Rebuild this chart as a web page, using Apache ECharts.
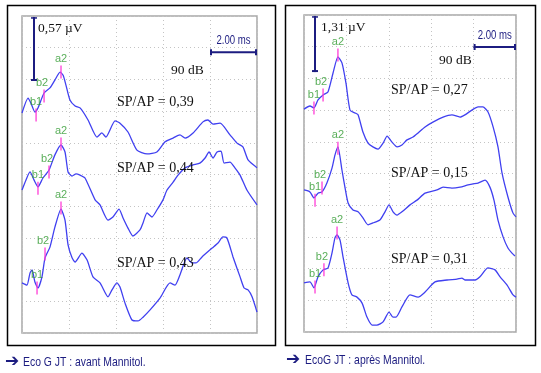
<!DOCTYPE html>
<html><head><meta charset="utf-8">
<script src="https://cdn.jsdelivr.net/npm/echarts@6/dist/echarts.min.js"></script>
<style>html,body{margin:0;padding:0;background:#fff}#c{width:541px;height:373px}</style>
</head><body><div id="c"></div>
<script>
// x in ms (0..10), y in screen divisions (0 bottom .. 10 top)
const leftTrace1 = [[0,6.94],[0.26,7.41],[0.38,7.25],[0.55,6.97],[0.68,7.10],[0.94,7.57],[1.19,7.73],[1.40,7.98],[1.62,8.23],[1.75,8.13],[1.87,7.82],[2.04,7.35],[2.26,7.16],[2.47,7.10],[2.81,6.72],[3.19,6.18],[3.40,6.31],[3.57,6.18],[3.96,6.69],[4.17,6.62],[4.51,6.34],[4.89,5.77],[5.32,5.65],[5.74,5.71],[6.09,6.03],[6.43,6.15],[6.72,6.25],[6.94,6.15],[7.28,6.31],[7.70,6.66],[7.91,6.72],[8.13,6.59],[8.43,6.62],[8.85,6.25],[9.15,5.99],[9.40,5.87],[9.62,5.46],[10.0,5.21]];
const leftTrace2 = [[0,4.51],[0.17,4.83],[0.34,5.08],[0.51,4.83],[0.68,4.61],[0.89,4.89],[1.15,5.14],[1.40,5.62],[1.66,5.93],[1.83,5.71],[1.96,5.08],[2.13,4.95],[2.30,5.02],[2.47,4.98],[2.68,4.89],[3.11,4.20],[3.32,4.04],[3.66,3.56],[3.87,3.66],[4.13,3.91],[4.30,3.63],[4.51,3.31],[4.72,3.06],[5.02,3.25],[5.15,3.47],[5.32,3.79],[5.53,3.66],[5.74,3.88],[6.00,4.20],[6.17,4.51],[6.43,4.76],[6.64,4.98],[6.94,5.21],[7.28,5.30],[7.57,5.36],[7.79,5.52],[7.96,5.71],[8.13,5.52],[8.30,5.71],[8.47,5.74],[8.60,5.36],[8.85,5.39],[9.06,5.21],[9.28,4.98],[9.57,4.51],[10.0,4.04]];
const leftTrace3 = [[0,1.58],[0.21,1.51],[0.34,1.89],[0.43,1.99],[0.55,1.61],[0.68,1.42],[0.85,1.77],[0.98,2.37],[1.19,2.71],[1.40,3.34],[1.66,3.91],[1.83,3.56],[1.96,2.78],[2.13,2.37],[2.26,2.24],[2.55,2.52],[2.77,2.30],[3.02,1.77],[3.32,1.58],[3.66,1.14],[3.83,1.36],[4.04,1.58],[4.17,1.45],[4.38,0.95],[4.68,0.41],[4.94,0.38],[5.15,0.50],[5.45,0.73],[5.87,1.10],[6.30,1.58],[6.51,1.51],[6.72,1.83],[7.02,2.37],[7.23,2.21],[7.40,2.21],[7.66,2.40],[8.09,2.68],[8.34,2.84],[8.55,3.03],[8.72,3.00],[8.98,2.40],[9.28,1.77],[9.45,1.42],[9.62,1.36],[9.79,1.14],[10.0,0.66]];
const rightTrace1 = [[0,7.03],[0.28,7.13],[0.47,7.07],[0.66,7.32],[0.90,7.48],[1.13,7.57],[1.37,8.17],[1.60,8.68],[1.79,8.49],[1.98,7.85],[2.17,7.00],[2.41,6.91],[2.55,6.85],[2.78,6.31],[3.02,5.96],[3.25,5.84],[3.49,5.77],[3.73,5.96],[3.92,6.18],[4.15,5.99],[4.39,5.84],[4.62,5.90],[4.86,6.06],[5.14,6.15],[5.38,6.28],[5.71,6.47],[6.08,6.62],[6.56,6.78],[6.98,6.85],[7.36,6.78],[7.59,6.85],[7.92,7.00],[8.21,7.10],[8.44,7.10],[8.68,6.94],[8.92,6.47],[9.15,5.84],[9.34,5.02],[9.62,4.26],[9.86,3.75],[10.0,3.63]];
const rightTrace2 = [[0,4.48],[0.28,4.42],[0.47,4.23],[0.66,4.38],[0.85,4.42],[1.08,4.70],[1.32,5.17],[1.46,5.58],[1.60,5.84],[1.79,5.11],[1.93,4.57],[2.08,4.07],[2.31,3.85],[2.55,3.79],[2.78,3.60],[3.02,3.38],[3.25,3.44],[3.58,3.53],[3.82,3.79],[4.01,4.01],[4.20,3.79],[4.39,3.69],[4.62,3.79],[5.00,4.01],[5.33,4.16],[5.71,4.38],[6.27,4.48],[6.56,4.57],[6.98,4.54],[7.36,4.57],[7.74,4.64],[7.97,4.67],[8.21,4.70],[8.54,4.79],[8.77,4.57],[8.96,4.16],[9.15,3.53],[9.39,3.00],[9.62,2.65],[9.81,2.49],[9.95,2.40]];
const rightTrace3 = [[0,1.55],[0.28,1.58],[0.47,1.39],[0.66,1.74],[0.90,1.96],[1.13,2.02],[1.32,2.49],[1.46,2.97],[1.56,3.06],[1.70,2.90],[1.84,2.37],[2.08,1.55],[2.26,1.17],[2.50,1.10],[2.74,0.91],[2.97,0.47],[3.21,0.22],[3.44,0.22],[3.73,0.32],[4.01,0.63],[4.20,0.47],[4.34,0.47],[4.62,0.79],[5.00,1.17],[5.38,1.10],[5.71,1.26],[6.18,1.58],[6.75,1.64],[7.22,1.67],[7.45,1.70],[7.59,1.64],[8.07,1.64],[8.30,1.74],[8.68,2.02],[9.01,1.96],[9.25,1.74],[9.58,1.48],[9.86,1.17],[10.0,1.10]];

// wave markers: [name, ms, div]
const leftMarks1 = [['b1',0.60,6.88],['b2',0.94,7.48],['a2',1.66,8.23]];
const leftMarks2 = [['b1',0.68,4.57],['b2',1.15,5.08],['a2',1.66,5.96]];
const leftMarks3 = [['b1',0.64,1.42],['b2',0.98,2.49],['a2',1.66,3.94]];
const rightMarks1 = [['b1',0.47,7.07],['b2',0.90,7.48],['a2',1.60,8.74]];
const rightMarks2 = [['b1',0.52,4.16],['b2',0.85,4.54],['a2',1.60,5.80]];
const rightMarks3 = [['b1',0.52,1.42],['b2',0.94,1.96],['a2',1.56,3.12]];

const leftRatios = ['SP/AP = 0,39','SP/AP = 0,44','SP/AP = 0,43'];
const rightRatios = ['SP/AP = 0,27','SP/AP = 0,15','SP/AP = 0,31'];
const uvLabels = ['0,57 µV','1,31 µV'];
const msLabel = '2.00 ms';
const levelLabel = '90 dB';
const captions = ['Eco G JT : avant Mannitol.','EcoG JT : après Mannitol.'];
// scale bars in axis units
const msBar = [[8,10,8.86],[8,10,8.99]];      // x0,x1,y
const uvBar = [[0.51,9.97,7.95],[0.52,9.97,8.2]]; // x,y0,y1

const TRACE = '#4040f0', NAVY = '#1c1c80', GREEN = '#2f9a2f', MAG = '#ff3ad6';
const SERIF = '"Liberation Serif", "Times New Roman", serif';
const SANS = '"Liberation Sans", Arial, sans-serif';

const chart = echarts.init(document.getElementById('c'), null, {renderer:'canvas'});

function ax(i, interval){
  return {type:'value', gridIndex:i, min:0, max:10, interval:interval,
    axisLine:{show:false}, axisTick:{show:false}, axisLabel:{show:false},
    splitLine:{show:true, lineStyle:{color:'#c4c4c4', type:[1,3], width:1}}};
}
function lineS(i, d){
  return {type:'line', xAxisIndex:i, yAxisIndex:i, data:d, showSymbol:false, smooth:0.2,
    lineStyle:{color:TRACE, width:1.3}, silent:true, z:3, animation:false};
}
function markS(i, m){
  return {type:'scatter', xAxisIndex:i, yAxisIndex:i, symbol:'rect', symbolSize:[1.6,13],
    itemStyle:{color:MAG}, z:4, animation:false, silent:true,
    data:m.map(p=>({name:p[0], value:[p[1],p[2]],
      label:{offset:p[0]==='b2'?[-2,0]:[0,0]}})),
    label:{show:true, position:'top', distance:1, formatter:'{b}', color:GREEN,
      fontSize:11, fontFamily:SANS}};
}

const option = {
  animation:false,
  grid:[
    {left:22, top:16, width:235, height:317, show:true, borderColor:'#a8a8a8', borderWidth:1.5, backgroundColor:'#fff'},
    {left:304, top:15, width:212, height:317, show:true, borderColor:'#a8a8a8', borderWidth:1.5, backgroundColor:'#fff'}
  ],
  xAxis:[ax(0,2), ax(1,2)],
  yAxis:[ax(0,1), ax(1,1)],
  series:[
    lineS(0,leftTrace1), lineS(0,leftTrace2), lineS(0,leftTrace3),
    lineS(1,rightTrace1), lineS(1,rightTrace2), lineS(1,rightTrace3),
    markS(0,leftMarks1), markS(0,leftMarks2), markS(0,leftMarks3),
    markS(1,rightMarks1), markS(1,rightMarks2), markS(1,rightMarks3)
  ]
};
chart.setOption(option);

function px(i, x, y){ return chart.convertToPixel({gridIndex:i}, [x,y]); }
const g = [];
// outer frames
g.push({type:'rect', shape:{x:7.5, y:5.5, width:268, height:340}, style:{fill:null, stroke:'#000', lineWidth:1.5}, z:10});
g.push({type:'rect', shape:{x:285.5, y:5.5, width:250, height:340}, style:{fill:null, stroke:'#000', lineWidth:1.5}, z:10});
function txt(x,y,text,font,size,color,align,sx){
  g.push({type:'text', x:x, y:y, scaleX:sx||1, z:20, style:{text:text, fontFamily:font, fontSize:size, fill:color, align:align||'left', verticalAlign:'middle'}});
}
function seg(a,b,w){
  g.push({type:'line', z:20, shape:{x1:a[0],y1:a[1],x2:b[0],y2:b[1]}, style:{stroke:NAVY, lineWidth:w}});
}
[0,1].forEach(i=>{
  // ms bar
  const a = px(i, msBar[i][0], msBar[i][2]), b = px(i, msBar[i][1], msBar[i][2]);
  seg(a,b,2); seg([a[0]+1,a[1]-3],[a[0]+1,a[1]+3],2); seg([b[0]-1,b[1]-3],[b[0]-1,b[1]+3],2);
  txt((a[0]+b[0])/2, a[1]-11, msLabel, SANS, 12, NAVY, 'center', 0.8);
  // uV bar
  const c = px(i, uvBar[i][0], uvBar[i][1]), d = px(i, uvBar[i][0], uvBar[i][2]);
  seg(c,d,2); seg([c[0]-3,c[1]+1],[c[0]+3,c[1]+1],1.5); seg([d[0]-3,d[1]-1],[d[0]+3,d[1]-1],2);
});
txt(38, 28, uvLabels[0], SERIF, 13.5, '#111');
txt(321, 27, uvLabels[1], SERIF, 13.5, '#111');
txt(171, 70, levelLabel, SERIF, 13.5, '#111');
txt(439, 60, levelLabel, SERIF, 13.5, '#111');
[102,168,263].forEach((y,k)=>txt(117, y, leftRatios[k], SERIF, 14, '#111'));
[90,173,259].forEach((y,k)=>txt(391, y, rightRatios[k], SERIF, 14, '#111'));
txt(5, 362, '➔', '"DejaVu Sans", sans-serif', 17, NAVY);
txt(23, 362, captions[0], SANS, 13, NAVY, 'left', 0.8);
txt(286, 360, '➔', '"DejaVu Sans", sans-serif', 17, NAVY);
txt(305, 360, captions[1], SANS, 13, NAVY, 'left', 0.8);
chart.setOption({graphic:{elements:g}});
</script></body></html>
